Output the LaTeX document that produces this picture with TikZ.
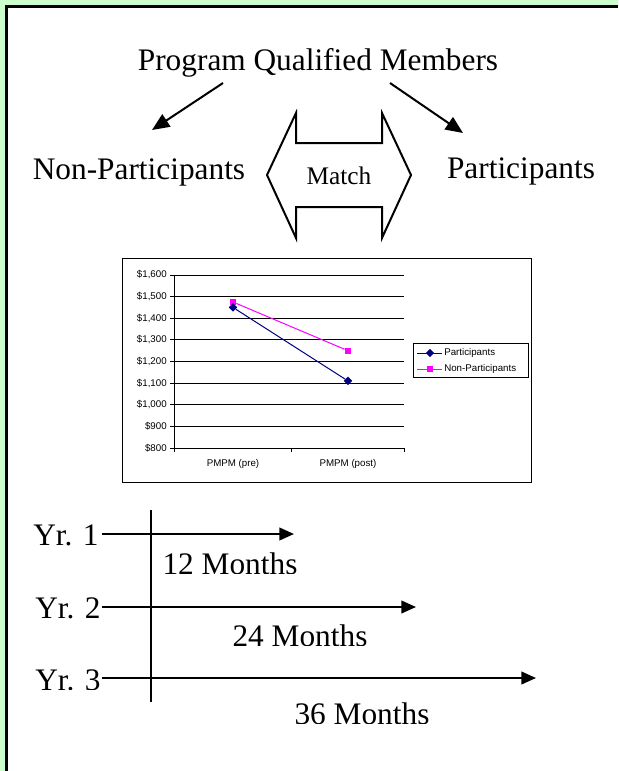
\documentclass[tikz,border=0pt]{standalone}
\usepackage{fontspec}
\setmainfont{Liberation Serif}
\newfontfamily\chartfont{Liberation Sans}
\usetikzlibrary{arrows.meta,shapes.geometric}
\definecolor{bggreen}{HTML}{CCFFCC}
\definecolor{navyc}{HTML}{000080}
\definecolor{magc}{HTML}{FF00FF}
\begin{document}
\begin{tikzpicture}[x=0.75pt,y=-0.75pt,
  big/.style={font=\fontsize{23.5}{28}\selectfont, inner sep=0, anchor=base},
  yrtext/.style={big, anchor=base west},
  conn/.style={line width=1.5pt, -{Triangle[length=13pt,width=11pt]}},
  tl/.style={line width=1.5pt, -{Triangle[length=11pt,width=9.5pt]}},
  grid/.style={line width=0.75pt, black},
  ctext/.style={font=\chartfont\fontsize{7.3}{8.5}\selectfont, inner sep=0},
  pmark/.style={diamond, fill=navyc, minimum size=6.5pt, inner sep=0},
  nmark/.style={rectangle, fill=magc, minimum size=4.6pt, inner sep=0},
  shell/.style={line width=1.5pt, line join=miter}]
\useasboundingbox (0,0) rectangle (618,771);
\fill[bggreen] (0,0) rectangle (618,771);
\fill[white] (7,7) rectangle (618,771);
\draw[line width=2.2pt] (6.5,771) -- (6.5,6.5) -- (618,6.5);

% top labels
\node[big] (pqm) at (318,70) {Program Qualified Members};
\node[big] (np) at (139,179) {Non-Participants};
\node[big] (pa) at (521,178) {Participants};
\coordinate (l1) at (223,83);
\coordinate (l2) at (152,130);
\coordinate (r1) at (390,83);
\coordinate (r2) at (463,133);
\draw[conn] (l1) -- (l2);
\draw[conn] (r1) -- (r2);

% match double arrow
\draw[shell] (267,175) -- (296,113) -- (296,143) -- (382,143) -- (382,113)
  -- (411,175) -- (382,238) -- (382,207) -- (296,207) -- (296,238) -- cycle;
\node[font=\fontsize{19}{22}\selectfont, inner sep=0, anchor=base] (match) at (339,184) {Match};

% chart
\draw[line width=0.75pt] (122,258) rectangle (531,482);
\foreach \i/\l in {0/{\$800},1/{\$900},2/{\$1,000},3/{\$1,100},4/{\$1,200},5/{\$1,300},6/{\$1,400},7/{\$1,500},8/{\$1,600}}{
  \draw[grid] (170,448-21.625*\i) -- (404,448-21.625*\i);
  \node[ctext, anchor=east] at (167,448-21.625*\i) {\l};
}
\draw[grid] (174,275) -- (174,452);
\draw[grid] (291,448) -- (291,452);
\draw[grid] (404,448) -- (404,452);
\node[ctext, anchor=base] (xpre) at (233,466) {PMPM (pre)};
\node[ctext, anchor=base] (xpost) at (348,466) {PMPM (post)};
\node[nmark] (n1) at (233,302.03) {};
\node[nmark] (n2) at (348,350.69) {};
\node[pmark] (p1) at (233,307.44) {};
\node[pmark] (p2) at (348,380.96) {};
\draw[magc, line width=0.75pt] (n1) -- (n2);
\draw[navyc, line width=0.75pt] (p1) -- (p2);
% legend
\draw[line width=0.75pt] (413,343) rectangle (528,377);
\node[pmark] (lp) at (430,353) {};
\node[nmark] (ln) at (430,369) {};
\draw[navyc, line width=0.75pt] (417,353) -- (442,353);
\draw[magc, line width=0.75pt] (417,369) -- (442,369);
\node[ctext, anchor=west] (lpt) at (444,353) {Participants};
\node[ctext, anchor=west] (lnt) at (444,369) {Non-Participants};

% timeline
\draw[line width=1.6pt] (151,510) -- (151,702);
\node[yrtext] (y1) at (33,545) {Yr. 1};
\node[yrtext] (y2) at (35,618) {Yr. 2};
\begin{scope}
  \clip (0,0) rectangle (618,689.5);
  \node[yrtext] (y3) at (35,690) {Yr. 3};
\end{scope}
\coordinate (s1) at (102,534); \coordinate (e1) at (294,534);
\coordinate (s2) at (102,607); \coordinate (e2) at (416,607);
\coordinate (s3) at (102,678); \coordinate (e3) at (536,678);
\draw[tl] (s1) -- (e1);
\draw[tl] (s2) -- (e2);
\draw[tl] (s3) -- (e3);
\begin{scope}
  \clip (0,0) rectangle (618,573);
  \node[big] (m12) at (230,574) {12 Months};
\end{scope}
\begin{scope}
  \clip (0,0) rectangle (618,645);
  \node[big] (m24) at (300,646) {24 Months};
\end{scope}
\begin{scope}
  \clip (0,0) rectangle (618,723);
  \node[big] (m36) at (362,724) {36 Months};
\end{scope}
\end{tikzpicture}
\end{document}
